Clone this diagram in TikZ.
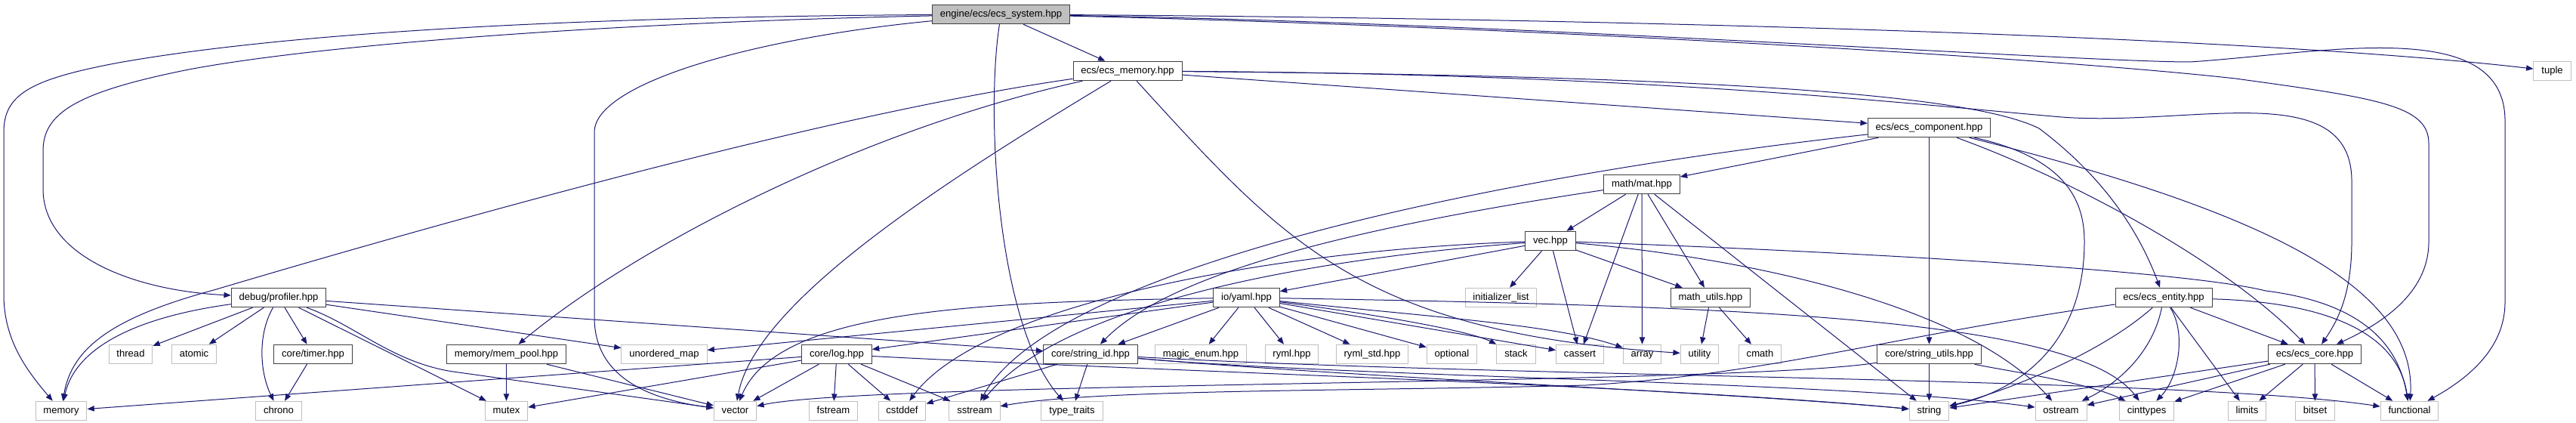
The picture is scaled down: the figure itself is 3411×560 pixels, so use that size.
\documentclass[tikz,border=0pt]{standalone}
\usepackage{fontspec}
\setmainfont{Liberation Sans}
\usetikzlibrary{arrows.meta}
\definecolor{edgeblue}{HTML}{191970}
\definecolor{grey25}{HTML}{404040}
\definecolor{grey75}{HTML}{BFBFBF}

\begin{document}
\begin{tikzpicture}[
    x=0.75pt, y=-0.75pt,
    box/.style={rectangle, draw, line width=0.75pt, inner xsep=7.8pt, inner ysep=0pt, minimum height=19.1pt, text height=7.2pt, text depth=2.1pt, font=\fontsize{9.8}{11}\selectfont},
    hdr/.style={box, draw=grey25, fill=white},
    sysbox/.style={box, draw=grey25, fill=grey75},
    ext/.style={box, draw=grey75, fill=white},
    dep/.style={-{Triangle[length=7pt, width=5.5pt]}, draw=edgeblue, line width=0.75pt}
]
\path[use as bounding box, fill=white] (0,0) rectangle (3411,560);

\node[sysbox] (sys) at (1325.5,19) {engine/ecs/ecs\_system.hpp};
\node[hdr] (mem) at (1493,94) {ecs/ecs\_memory.hpp};
\node[ext] (tuple) at (3379.5,94) {tuple};
\node[hdr] (comp) at (2554.5,169) {ecs/ecs\_component.hpp};
\node[hdr] (mat) at (2174,244) {math/mat.hpp};
\node[hdr] (vec) at (2053,319) {vec.hpp};
\node[hdr] (prof) at (369,394) {debug/profiler.hpp};
\node[hdr] (yaml) at (1650.5,394) {io/yaml.hpp};
\node[ext] (initl) at (1987.5,394) {initializer\_list};
\node[hdr] (mutils) at (2265,394) {math\_utils.hpp};
\node[hdr] (ent) at (2865,394) {ecs/ecs\_entity.hpp};

\node[ext] (thread) at (173,469) {thread};
\node[ext] (atomic) at (257,469) {atomic};
\node[hdr] (timer) at (414.5,469) {core/timer.hpp};
\node[hdr] (pool) at (670.5,469) {memory/mem\_pool.hpp};
\node[ext] (umap) at (879.5,469) {unordered\_map};
\node[hdr] (log) at (1108,469) {core/log.hpp};
\node[hdr] (sid) at (1444,469) {core/string\_id.hpp};
\node[ext] (menum) at (1590,469) {magic\_enum.hpp};
\node[ext] (ryml) at (1710.5,469) {ryml.hpp};
\node[ext] (rymlstd) at (1817,469) {ryml\_std.hpp};
\node[ext] (optional) at (1922.5,469) {optional};
\node[ext] (stack) at (2007.5,469) {stack};
\node[ext] (cassert) at (2092,469) {cassert};
\node[ext] (array) at (2174.5,469) {array};
\node[ext] (utility) at (2250.5,469) {utility};
\node[ext] (cmath) at (2330.5,469) {cmath};
\node[hdr] (sutils) at (2554.5,469) {core/string\_utils.hpp};
\node[hdr] (core) at (3065,469) {ecs/ecs\_core.hpp};

\node[ext] (memory) at (81,544) {memory};
\node[ext] (chrono) at (369,544) {chrono};
\node[ext] (mutex) at (670.5,544) {mutex};
\node[ext] (vector) at (973.5,544) {vector};
\node[ext] (fstream) at (1103.5,544) {fstream};
\node[ext] (cstddef) at (1194.5,544) {cstddef};
\node[ext] (sstream) at (1290.5,544) {sstream};
\node[ext] (ttraits) at (1419.5,544) {type\_traits};
\node[ext] (string) at (2554.5,544) {string};
\node[ext] (ostream) at (2729,544) {ostream};
\node[ext] (cinttypes) at (2842.5,544) {cinttypes};
\node[ext] (limits) at (2975.5,544) {limits};
\node[ext] (bitset) at (3065.5,544) {bitset};
\node[ext] (functional) at (3190.5,544) {functional};

\draw[dep] (sys) .. controls (800,22) and (400,40) .. (157,83) .. controls (40,105) and (5,125) .. (5,175) -- (5,390) .. controls (5,450) and (35,490) .. (memory);
\draw[dep] (sys) .. controls (800,30) and (420,60) .. (250,92) .. controls (100,122) and (57,150) .. (57,200) -- (57,250) .. controls (57,340) and (180,385) .. (prof);
\draw[dep] (sys) .. controls (1000,50) and (787,110) .. (787,175) -- (787,420) .. controls (787,505) and (870,530) .. (vector);
\draw[dep] (sys) -- (mem);
\draw[dep] (sys) .. controls (1305,150) and (1320,430) .. (ttraits);
\draw[dep] (sys) .. controls (2200,25) and (3000,50) .. (tuple);
\draw[dep] (sys) .. controls (2000,30) and (2750,82) .. (2900,82) .. controls (3080,70) and (3317,20) .. (3317,160) -- (3317,400) .. controls (3317,460) and (3270,500) .. (functional);
\draw[dep] (sys) .. controls (2000,35) and (2700,75) .. (2960,104) .. controls (3150,130) and (3216,140) .. (3216,190) -- (3216,320) .. controls (3216,390) and (3150,430) .. (core);

\draw[dep] (mem) .. controls (1100,150) and (600,290) .. (283,384) .. controls (150,420) and (95,460) .. (memory);
\draw[dep] (mem) .. controls (1150,170) and (850,320) .. (pool);
\draw[dep] (mem) .. controls (1250,240) and (1000,400) .. (vector);
\draw[dep] (mem) .. controls (1700,320) and (1800,440) .. (utility);
\draw[dep] (mem) -- (comp);
\draw[dep] (mem) .. controls (2200,100) and (2600,120) .. (2700,170) .. controls (2780,230) and (2830,300) .. (ent);
\draw[dep] (mem) .. controls (2200,98) and (2550,140) .. (2730,155) .. controls (2900,168) and (3114,100) .. (3114,240) -- (3114,320) .. controls (3114,390) and (3095,425) .. (core);

\draw[dep] (comp) -- (mat);
\draw[dep] (comp) .. controls (2000,230) and (1400,350) .. (sstream);
\draw[dep] (comp) -- (sutils);
\draw[dep] (comp) .. controls (2740,210) and (2760,270) .. (2760,320) .. controls (2760,450) and (2680,515) .. (string);
\draw[dep] (comp) .. controls (3000,280) and (3200,380) .. (functional);
\draw[dep] (comp) .. controls (2750,240) and (2950,350) .. (core);

\draw[dep] (mat) -- (vec);
\draw[dep] (mat) .. controls (1800,300) and (1550,360) .. (sid);
\draw[dep] (mat) -- (cassert);
\draw[dep] (mat) -- (array);
\draw[dep] (mat) -- (mutils);
\draw[dep] (mat) -- (string);

\draw[dep] (vec) -- (yaml);
\draw[dep] (vec) .. controls (1700,330) and (1300,400) .. (cstddef);
\draw[dep] (vec) .. controls (1700,345) and (1400,410) .. (sstream);
\draw[dep] (vec) -- (initl);
\draw[dep] (vec) -- (cassert);
\draw[dep] (vec) -- (mutils);
\draw[dep] (vec) .. controls (2500,335) and (2900,360) .. (3000,385) .. controls (3120,400) and (3175,450) .. (functional);
\draw[dep] (vec) .. controls (2300,340) and (2600,400) .. (ostream);

\draw[dep] (prof) .. controls (180,420) and (100,460) .. (memory);
\draw[dep] (prof) -- (thread);
\draw[dep] (prof) -- (atomic);
\draw[dep] (prof) -- (timer);
\draw[dep] (prof) .. controls (340,445) and (345,495) .. (chrono);
\draw[dep] (prof) -- (mutex);
\draw[dep] (prof) .. controls (470,430) and (520,480) .. (600,492) -- (vector);
\draw[dep] (prof) -- (umap);
\draw[dep] (prof) -- (sid);

\draw[dep] (yaml) .. controls (1290,400) and (1030,410) .. (vector);
\draw[dep] (yaml) -- (umap);
\draw[dep] (yaml) -- (log);
\draw[dep] (yaml) -- (sid);
\draw[dep] (yaml) -- (menum);
\draw[dep] (yaml) -- (ryml);
\draw[dep] (yaml) -- (rymlstd);
\draw[dep] (yaml) -- (optional);
\draw[dep] (yaml) .. controls (1850,420) and (1950,440) .. (stack);
\draw[dep] (yaml) -- (cassert);
\draw[dep] (yaml) .. controls (1900,420) and (2060,430) .. (array);
\draw[dep] (yaml) .. controls (2300,405) and (2750,420) .. (cinttypes);

\draw[dep] (ent) .. controls (2500,445) and (2350,495) .. (2100,510) .. controls (1800,518) and (1450,515) .. (sstream);
\draw[dep] (ent) .. controls (2780,470) and (2650,520) .. (string);
\draw[dep] (ent) .. controls (2850,470) and (2800,510) .. (ostream);
\draw[dep] (ent) .. controls (2895,440) and (2885,500) .. (cinttypes);
\draw[dep] (ent) -- (limits);
\draw[dep] (ent) .. controls (3080,400) and (3175,440) .. (functional);
\draw[dep] (ent) -- (core);

\draw[dep] (timer) -- (chrono);
\draw[dep] (pool) -- (mutex);
\draw[dep] (pool) -- (vector);
\draw[dep] (mutils) -- (utility);
\draw[dep] (mutils) -- (cmath);

\draw[dep] (log) -- (memory);
\draw[dep] (log) -- (mutex);
\draw[dep] (log) -- (vector);
\draw[dep] (log) -- (fstream);
\draw[dep] (log) -- (cstddef);
\draw[dep] (log) -- (sstream);
\draw[dep] (log) .. controls (1500,490) and (2200,510) .. (string);

\draw[dep] (sid) -- (cstddef);
\draw[dep] (sid) -- (ttraits);
\draw[dep] (sid) .. controls (1800,500) and (2300,520) .. (string);
\draw[dep] (sid) .. controls (1800,500) and (2450,505) .. (ostream);
\draw[dep] (sid) .. controls (2000,500) and (2900,500) .. (functional);

\draw[dep] (sutils) -- (string);
\draw[dep] (sutils) .. controls (2300,510) and (1150,505) .. (vector);
\draw[dep] (sutils) .. controls (2650,490) and (2760,505) .. (cinttypes);

\draw[dep] (core) -- (string);
\draw[dep] (core) -- (ostream);
\draw[dep] (core) -- (cinttypes);
\draw[dep] (core) -- (limits);
\draw[dep] (core) -- (bitset);
\draw[dep] (core) -- (functional);
\end{tikzpicture}
\end{document}
